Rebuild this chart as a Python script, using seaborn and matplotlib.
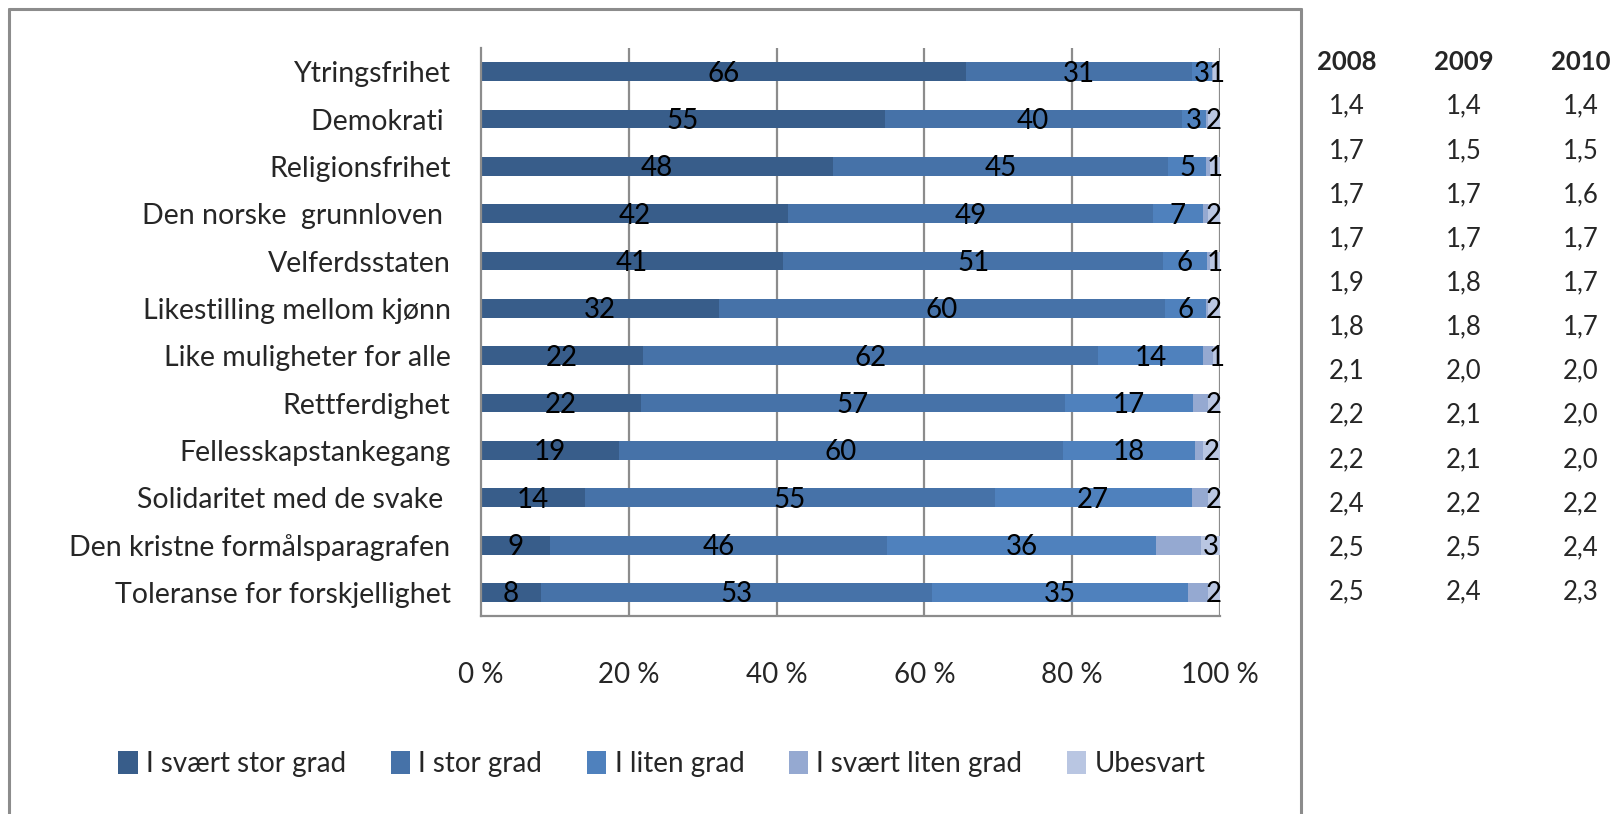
import matplotlib
matplotlib.use("Agg")
import matplotlib.pyplot as plt
import numpy as np
import pandas as pd
import seaborn as sns
from matplotlib.patches import Patch

categories = ["Ytringsfrihet", "Demokrati ", "Religionsfrihet", "Den norske  grunnloven ",
              "Velferdsstaten", "Likestilling mellom kjønn", "Like muligheter for alle",
              "Rettferdighet", "Fellesskapstankegang", "Solidaritet med de svake ",
              "Den kristne formålsparagrafen", "Toleranse for forskjellighet"]

series = ["I svært stor grad", "I stor grad", "I liten grad", "I svært liten grad", "Ubesvart"]

svaert_stor = [65.6, 54.6, 47.6, 41.6, 40.9, 32.2, 21.9, 21.6, 18.7, 14.1, 9.3, 8.1]
stor = [30.6, 40.2, 45.4, 49.3, 51.4, 60.3, 61.6, 57.4, 60.0, 55.4, 45.7, 52.9]
liten = [2.7, 3.3, 5.1, 6.8, 5.9, 5.6, 14.2, 17.4, 17.9, 26.7, 36.4, 34.6]
svaert_liten = [0.2, 0.3, 0.6, 0.7, 0.4, 0.3, 1.4, 2.0, 1.1, 2.2, 6.0, 2.8]
ubesvart = [0.9, 1.6, 1.3, 1.6, 1.4, 1.6, 0.9, 1.6, 2.3, 1.6, 2.6, 1.6]

years = ["2008", "2009", "2010"]
snitt_2008 = ["1,4", "1,7", "1,7", "1,7", "1,9", "1,8", "2,1", "2,2", "2,2", "2,4", "2,5", "2,5"]
snitt_2009 = ["1,4", "1,5", "1,7", "1,7", "1,8", "1,8", "2,0", "2,1", "2,1", "2,2", "2,5", "2,4"]
snitt_2010 = ["1,4", "1,5", "1,6", "1,7", "1,7", "1,7", "2,0", "2,0", "2,0", "2,2", "2,4", "2,3"]

colors = ["#385D8A", "#4672A8", "#4F81BD", "#95A9D1", "#B9C6E2"]
labelled = [True, True, True, False, True]

sns.set_style("white")
plt.rcParams["font.family"] = ["Lato", "DejaVu Sans"]

df = pd.DataFrame(np.array([svaert_stor, stor, liten, svaert_liten, ubesvart]).T,
                  index=categories, columns=series)
cum = df.cumsum(axis=1)

fig = plt.figure(figsize=(16.17, 8.14), dpi=100)
ax = fig.add_axes([0.2975, 0.2432, 0.457, 0.6978])

ax.set_axisbelow(True)
for v in [20, 40, 60, 80, 100]:
    ax.axvline(v, color="#8C8C8C", lw=1.6, zorder=0)

for i in reversed(range(len(series))):
    sns.barplot(x=cum[series[i]].values, y=categories, color=colors[i], orient="h",
                width=0.4, saturation=1, ax=ax, zorder=2, edgecolor="none")

# segment labels
for i, s in enumerate(series):
    if not labelled[i]:
        continue
    left = cum[s] - df[s]
    for j, cat in enumerate(categories):
        val = df[s].iloc[j]
        if val < 0.5:
            continue
        ax.text(left.iloc[j] + val / 2, j + 0.04, f"{val:.0f}", ha="center", va="center",
                fontsize=20, color="black", zorder=3)

ax.set_xlim(0, 100)
ax.set_ylim(len(categories) - 0.5, -0.5)
ax.set_xticks([0, 20, 40, 60, 80, 100])
ax.set_xticklabels(["0 %", "20 %", "40 %", "60 %", "80 %", "100 %"], fontsize=20)
ax.set_xlabel("")
ax.set_ylabel("")
ax.tick_params(axis="x", direction="out", length=9, width=1.6, color="#8C8C8C", pad=24)
ax.tick_params(axis="y", which="major", length=0, labelsize=20.5, pad=22)
ax.set_yticks(np.arange(-0.5, len(categories) + 0.5), minor=True)
ax.tick_params(axis="y", which="minor", direction="out", length=9, width=1.6, color="#8C8C8C")
for sp in ["top", "right"]:
    ax.spines[sp].set_visible(False)
for sp in ["left", "bottom"]:
    ax.spines[sp].set_color("#8C8C8C")
    ax.spines[sp].set_linewidth(1.6)

# chart area border (open at the bottom)
fig.add_artist(plt.Line2D([9 / 1617, 9 / 1617], [0, 1 - 9 / 814], transform=fig.transFigure,
                          color="#8C8C8C", lw=2.2))
fig.add_artist(plt.Line2D([9 / 1617, 1301 / 1617], [1 - 9 / 814, 1 - 9 / 814],
                          transform=fig.transFigure, color="#8C8C8C", lw=2.2))
fig.add_artist(plt.Line2D([1301 / 1617, 1301 / 1617], [0, 1 - 9 / 814],
                          transform=fig.transFigure, color="#8C8C8C", lw=2.2))

handles = [Patch(facecolor=c, edgecolor="none") for c in colors]
fig.legend(handles, series, loc="center", bbox_to_anchor=(662 / 1617, 1 - 764 / 814), ncol=5,
           frameon=False, fontsize=20, handlelength=0.7, handleheight=0.9, handletextpad=0.3,
           columnspacing=1.6)

# table of averages
tab = fig.add_axes([1290 / 1617, 1 - 614 / 814, 327 / 1617, 574 / 814])
tab.set_xlim(-0.487, -0.487 + 327 / 117)
tab.set_ylim(len(categories) - 0.5, -1.5)
tab.axis("off")
for k, (yr, col) in enumerate(zip(years, [snitt_2008, snitt_2009, snitt_2010])):
    tab.text(k, -1, yr, ha="center", va="center", fontsize=18.5, fontweight="bold")
    for j, v in enumerate(col):
        tab.text(k, j, v, ha="center", va="center", fontsize=18.5)

fig.savefig("out.png", dpi=100)
